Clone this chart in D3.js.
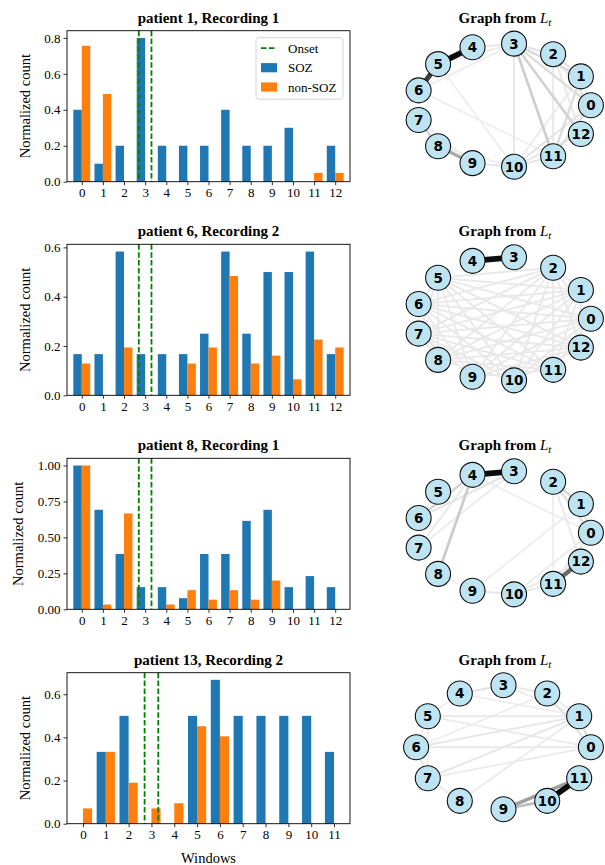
<!DOCTYPE html>
<html><head><meta charset="utf-8">
<script src="https://cdn.jsdelivr.net/npm/d3@7/dist/d3.min.js"></script>
<style>body{margin:0;background:#fff}svg{display:block}</style>
</head><body>
<svg id="c" width="605" height="865"></svg>
<script>
// ---------------- DATA ----------------
const panelTitles = ["patient 1, Recording 1","patient 6, Recording 2","patient 8, Recording 1","patient 13, Recording 2"];
const windows13 = [0,1,2,3,4,5,6,7,8,9,10,11,12];
const windows12 = [0,1,2,3,4,5,6,7,8,9,10,11];

const soz1    = [0.4,0.1,0.2,0.8,0.2,0.2,0.2,0.4,0.2,0.2,0.3,0,0.2];
const nonSoz1 = [0.756,0.488,0,0,0,0,0,0,0,0,0,0.049,0.049];
const soz2    = [0.167,0.167,0.583,0.167,0.167,0.167,0.25,0.583,0.25,0.5,0.5,0.583,0.167];
const nonSoz2 = [0.129,0,0.194,0,0,0.129,0.194,0.484,0.129,0.161,0.065,0.226,0.194];
const soz3    = [1.0,0.692,0.385,0.154,0.154,0.077,0.385,0.385,0.615,0.692,0.154,0.231,0.154];
const nonSoz3 = [1.0,0.033,0.667,0,0.033,0.133,0.067,0.133,0.067,0.2,0,0,0];
const soz4    = [0,0.333,0.5,0,0,0.5,0.667,0.5,0.5,0.5,0.5,0.333];
const nonSoz4 = [0.071,0.333,0.19,0.071,0.095,0.452,0.405,0,0,0,0,0];

const yTicks1 = [0,0.2,0.4,0.6,0.8];
const yTicks2 = [0,0.2,0.4,0.6];
const yTicks3 = [0,0.25,0.5,0.75,1.0];
const yTicks4 = [0,0.2,0.4,0.6];
const yMax = [0.84,0.6125,1.05,0.70];
const onset = [2.7,3.3];
const seriesNames = ["SOZ","non-SOZ"];

// graph edges [u, v, weight]
const edges1 = [[4,5,1.0],[5,6,0.85],[8,9,0.45],[7,8,0.25],[3,4,0.12],[5,3,0.08],[6,3,0.07],[3,10,0.12],
  [3,11,0.28],[3,12,0.26],[3,0,0.2],[3,1,0.22],[3,2,0.15],[2,1,0.15],[2,12,0.1],[2,11,0.1],[1,11,0.2],
  [1,10,0.08],[0,11,0.18],[0,10,0.14],[12,10,0.12],[11,10,0.12],[10,9,0.12],[9,7,0.08],[10,8,0.07],
  [10,5,0.05],[6,11,0.05],[2,0,0.12],[1,0,0.1],[1,12,0.1]];
const edges2 = [[3,4,1.0],
  [5,2,0.1],[5,1,0.1],[5,0,0.1],[5,12,0.1],[5,11,0.1],[5,10,0.1],[5,9,0.1],[5,8,0.1],[5,7,0.1],
  [6,2,0.1],[6,1,0.1],[6,0,0.1],[6,12,0.1],[6,11,0.1],[6,10,0.1],[6,9,0.1],[6,8,0.1],
  [7,2,0.1],[7,1,0.1],[7,0,0.1],[7,12,0.1],[7,11,0.1],[7,10,0.1],[7,9,0.1],
  [8,2,0.1],[8,1,0.1],[8,0,0.1],[8,12,0.1],[8,11,0.1],[8,10,0.1],
  [9,2,0.1],[9,1,0.1],[9,0,0.1],[9,12,0.1],[9,11,0.1],
  [10,2,0.1],[10,1,0.1],[10,0,0.1],[10,12,0.1],
  [11,2,0.1],[11,1,0.1],[11,0,0.1],[12,2,0.1],[12,1,0.1],[2,1,0.1],[2,0,0.1],[5,6,0.1],[6,7,0.1],[7,8,0.1]];
const edges3 = [[3,4,1.0],[11,12,0.7],[4,8,0.3],[4,6,0.25],[3,6,0.14],[4,7,0.1],[3,7,0.08],[2,1,0.25],
  [2,0,0.18],[1,0,0.15],[4,0,0.06],[2,12,0.1],[1,12,0.08],[0,11,0.1],[0,10,0.08],[12,10,0.1],[11,10,0.12],
  [10,9,0.1],[9,8,0.06],[2,11,0.07],[1,9,0.05],[6,5,0.06]];
const edges4 = [[10,11,1.0],[9,11,0.5],[9,10,0.35],[1,0,0.2],[2,0,0.15],[2,1,0.1],[3,4,0.15],[3,2,0.1],
  [3,1,0.08],[5,1,0.1],[6,1,0.12],[7,1,0.12],[8,1,0.08],[5,0,0.08],[6,0,0.1],[7,0,0.08],[4,1,0.06],
  [6,2,0.06],[5,6,0.08],[6,7,0.1],[7,8,0.08],[4,5,0.06],[5,7,0.06]];

const panels = [
  {windows:windows13, soz:soz1, non:nonSoz1, ticks:yTicks1, fmt:".1f", edges:edges1},
  {windows:windows13, soz:soz2, non:nonSoz2, ticks:yTicks2, fmt:".1f", edges:edges2},
  {windows:windows13, soz:soz3, non:nonSoz3, ticks:yTicks3, fmt:".2f", edges:edges3},
  {windows:windows12, soz:soz4, non:nonSoz4, ticks:yTicks4, fmt:".1f", edges:edges4}
];

// ---------------- LAYOUT ----------------
const svg = d3.select("#c");
const serif = "'Liberation Serif','Times New Roman',serif";
const sans = "'DejaVu Sans',sans-serif";
const left = 67, right = 350;
const tops = [30.7,244.3,458.3,672.7];
const plotH = 151;
const blue = "#1f77b4", orange = "#ff7f0e", green = "#008000";

panels.forEach((p, i) => {
  const top = tops[i], bottom = top + plotH;
  const n = p.windows.length;
  const x = d3.scaleLinear().domain([-0.7, n - 1 + 0.7]).range([left, right]);
  const y = d3.scaleLinear().domain([0, yMax[i]]).range([bottom, top]);
  const g = svg.append("g");

  // bars
  g.selectAll(".soz").data(p.windows).enter().append("rect")
    .attr("x", d => x(d - 0.4)).attr("width", d => x(d) - x(d - 0.4))
    .attr("y", (d, k) => y(p.soz[k])).attr("height", (d, k) => y(0) - y(p.soz[k]))
    .attr("fill", blue);
  g.selectAll(".non").data(p.windows).enter().append("rect")
    .attr("x", d => x(d)).attr("width", d => x(d + 0.4) - x(d))
    .attr("y", (d, k) => y(p.non[k])).attr("height", (d, k) => y(0) - y(p.non[k]))
    .attr("fill", orange);

  // onset lines
  g.selectAll(".onset").data(onset).enter().append("line")
    .attr("x1", d => x(d)).attr("x2", d => x(d)).attr("y1", top).attr("y2", bottom)
    .attr("stroke", green).attr("stroke-width", 1.8).attr("stroke-dasharray", "5.5,2.4");

  // axes
  const xa = g.append("g").attr("transform", `translate(0,${bottom})`)
    .call(d3.axisBottom(x).tickValues(p.windows).tickFormat(d3.format("d")).tickSize(3.5).tickPadding(3));
  const ya = g.append("g").attr("transform", `translate(${left},0)`)
    .call(d3.axisLeft(y).tickValues(p.ticks).tickFormat(d3.format(p.fmt)).tickSize(3.5).tickPadding(3));
  [xa, ya].forEach(a => {
    a.select(".domain").remove();
    a.selectAll("text").attr("font-family", serif).attr("font-size", 13).attr("fill", "#000");
    a.selectAll("line").attr("stroke", "#000").attr("stroke-width", 0.8);
  });
  g.append("rect").attr("x", left).attr("y", top).attr("width", right - left).attr("height", plotH)
    .attr("fill", "none").attr("stroke", "#000").attr("stroke-width", 0.9);

  // labels
  g.append("text").attr("x", (left + right) / 2).attr("y", top - 8)
    .attr("text-anchor", "middle").attr("font-family", serif).attr("font-weight", "bold")
    .attr("font-size", 15).text(panelTitles[i]);
  const ylx = i === 2 ? 18 : 25;
  g.append("text").attr("transform", `translate(${ylx},${(top + bottom) / 2}) rotate(-90)`)
    .attr("text-anchor", "middle").attr("dominant-baseline", "central")
    .attr("font-family", serif).attr("font-size", 14.5).text("Normalized count");

  // graph
  const gg = svg.append("g");
  const cx = 503.5, cy = (top + bottom) / 2 - 1, rx = 87.4, ry = 62;
  const pos = p.windows.map(k => {
    const a = 2 * Math.PI * k / n;
    return [cx + rx * Math.cos(a), cy - ry * Math.sin(a)];
  });
  const ecol = d3.interpolateRgb("#f0f0f0", "#0d0d0d");
  const sorted = p.edges.slice().sort((a, b) => a[2] - b[2]);
  gg.selectAll(".e").data(sorted).enter().append("line")
    .attr("x1", d => pos[d[0]][0]).attr("y1", d => pos[d[0]][1])
    .attr("x2", d => pos[d[1]][0]).attr("y2", d => pos[d[1]][1])
    .attr("stroke", d => ecol(Math.pow(d[2], 1.5)))
    .attr("stroke-width", d => 1.5 + 4.2 * d[2]);
  const nd = gg.selectAll(".n").data(p.windows).enter().append("g")
    .attr("transform", d => `translate(${pos[d][0]},${pos[d][1]})`);
  nd.append("circle").attr("r", 12.5).attr("fill", "#bee3f1").attr("stroke", "#111").attr("stroke-width", 1.1);
  nd.append("text").attr("text-anchor", "middle").attr("dy", "0.36em")
    .attr("font-family", sans).attr("font-weight", "bold").attr("font-size", 13.5).text(d => d);

  const t = gg.append("text").attr("x", 505).attr("y", top - 8).attr("text-anchor", "middle")
    .attr("font-family", serif).attr("font-size", 15);
  t.append("tspan").attr("font-weight", "bold").text("Graph from ");
  t.append("tspan").attr("font-style", "italic").text("L");
  t.append("tspan").attr("font-style", "italic").attr("font-size", 11).attr("dy", 3).text("t");

  // legend (first panel)
  if (i === 0) {
    const lg = svg.append("g").attr("transform", `translate(256,37.7)`);
    lg.append("rect").attr("width", 87).attr("height", 61.5).attr("rx", 2.5)
      .attr("fill", "#fff").attr("fill-opacity", 0.85).attr("stroke", "#d0d0d0").attr("stroke-width", 0.9);
    lg.append("line").attr("x1", 5).attr("x2", 21).attr("y1", 10.5).attr("y2", 10.5)
      .attr("stroke", green).attr("stroke-width", 1.8).attr("stroke-dasharray", "5.5,2.4");
    const items = [{name:"Onset", y:10.5}].concat(seriesNames.map((s, k) => ({name:s, y:30 + k * 19.3, c:[blue, orange][k]})));
    items.forEach(it => {
      if (it.c) lg.append("rect").attr("x", 5).attr("y", it.y - 4.6).attr("width", 16).attr("height", 9.2).attr("fill", it.c);
      lg.append("text").attr("x", 32).attr("y", it.y).attr("dy", "0.35em")
        .attr("font-family", serif).attr("font-size", 13).text(it.name);
    });
  }
  if (i === 3) {
    svg.append("text").attr("x", (left + right) / 2).attr("y", 858.3).attr("dy", "0.35em")
      .attr("text-anchor", "middle").attr("font-family", serif).attr("font-size", 14.5).text("Windows");
  }
});
</script>
</body></html>
